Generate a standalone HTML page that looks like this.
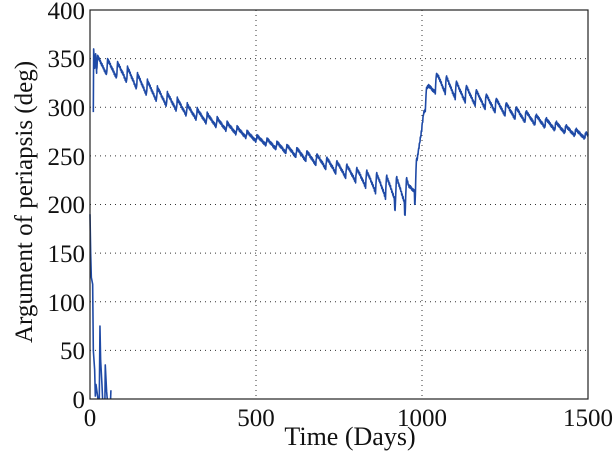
<!DOCTYPE html>
<html><head><meta charset="utf-8"><style>
body{margin:0;background:#fff;}
svg{display:block;font-family:"Liberation Serif",serif;}
</style></head><body>
<svg id="s" width="614" height="453" viewBox="0 0 614 453">
<rect width="614" height="453" fill="#fff"/>
<g stroke="#333" stroke-width="1" stroke-dasharray="1,4">
<line x1="90" x2="588" y1="58.6" y2="58.6"/><line x1="90" x2="588" y1="107.3" y2="107.3"/>
<line x1="90" x2="588" y1="155.9" y2="155.9"/><line x1="90" x2="588" y1="204.5" y2="204.5"/>
<line x1="90" x2="588" y1="253.1" y2="253.1"/><line x1="90" x2="588" y1="301.8" y2="301.8"/>
<line x1="90" x2="588" y1="350.4" y2="350.4"/>
<line x1="256" x2="256" y1="10" y2="399"/><line x1="422" x2="422" y1="10" y2="399"/>
</g>
<path id="d" fill="none" stroke="#1f4aa6" stroke-width="1.6" stroke-linejoin="round"/>
<rect x="90" y="10" width="498" height="389" fill="none" stroke="#222" stroke-width="1.2"/>
<g font-size="25" fill="#111" text-anchor="end">
<text x="85" y="19">400</text><text x="85" y="67">350</text><text x="85" y="116">300</text>
<text x="85" y="165">250</text><text x="85" y="213">200</text><text x="85" y="262">150</text>
<text x="85" y="311">100</text><text x="85" y="359">50</text><text x="85" y="408">0</text>
</g>
<g font-size="25" fill="#111" text-anchor="middle">
<text x="90" y="426">0</text><text x="256" y="426">500</text><text x="422" y="426">1000</text><text x="588" y="426">1500</text>
<text x="350" y="445" font-size="26">Time (Days)</text>
</g>
<text font-size="25" fill="#111" text-anchor="middle" transform="translate(32,202) rotate(-90)">Argument of periapsis (deg)</text>
</svg>
<script>
function X(t){return 90+t*0.332}function Y(v){return 399-v*0.9725}
var base=[[20,345],[100,336],[200,314],[300,296],[500,268],[700,244],[900,217],[960,212],[985,232],[1005,300],[1020,318],[1050,327],[1100,318],[1200,305],[1300,292],[1500,270]];
function B(t){for(var i=1;i<base.length;i++){if(t<=base[i][0]){var a=base[i-1],b=base[i];return a[1]+(b[1]-a[1])*(t-a[0])/(b[0]-a[0]);}}return 270}
function A(t){if(t<150)return 8;if(t<500)return 8-5*(t-150)/350;if(t<800)return 3+4*(t-500)/300;if(t<1000)return 7+10*(t-800)/200;if(t<1100)return 9;return 9-6*(t-1100)/400}
var d="M"+X(0)+","+Y(190)+" L"+X(2)+","+Y(150)+" L"+X(4)+","+Y(125)+" L"+X(8)+","+Y(118)+" L"+X(10)+","+Y(50)+" L"+X(14)+","+Y(30)+" L"+X(16)+","+Y(3)+" L"+X(18)+","+Y(15)+" L"+X(22)+","+Y(5)+" L"+X(24)+","+Y(0)+" M"+X(28)+","+Y(0)+" L"+X(30)+","+Y(75)+" L"+X(32)+","+Y(40)+" L"+X(36)+","+Y(15)+" L"+X(38)+","+Y(0)+" M"+X(45)+","+Y(0)+" L"+X(46)+","+Y(35)+" L"+X(50)+","+Y(8)+" L"+X(52)+","+Y(0)+" M"+X(62)+","+Y(0)+" L"+X(63)+","+Y(9)+" M"+X(10)+","+Y(295)+" L"+X(11)+","+Y(360)+" L"+X(14)+","+Y(340)+" L"+X(17)+","+Y(355)+" L"+X(20)+","+Y(335);
for(var t=20;t<=1500;t+=1){var p=((t-20)%30)/30;var s=(p<0.1?p/0.1:1-(p-0.1)/0.9);var v=B(t)+A(t)*(s-0.5)*2;if(t>900&&t<1000&&p>0.9)v-=A(t)*0.8;v+=Math.sin(t*2.3)*1.5;if(v>360)v=360;d+=" L"+X(t).toFixed(1)+","+Y(v).toFixed(1)}
document.getElementById("d").setAttribute("d",d);
</script>
</body></html>
